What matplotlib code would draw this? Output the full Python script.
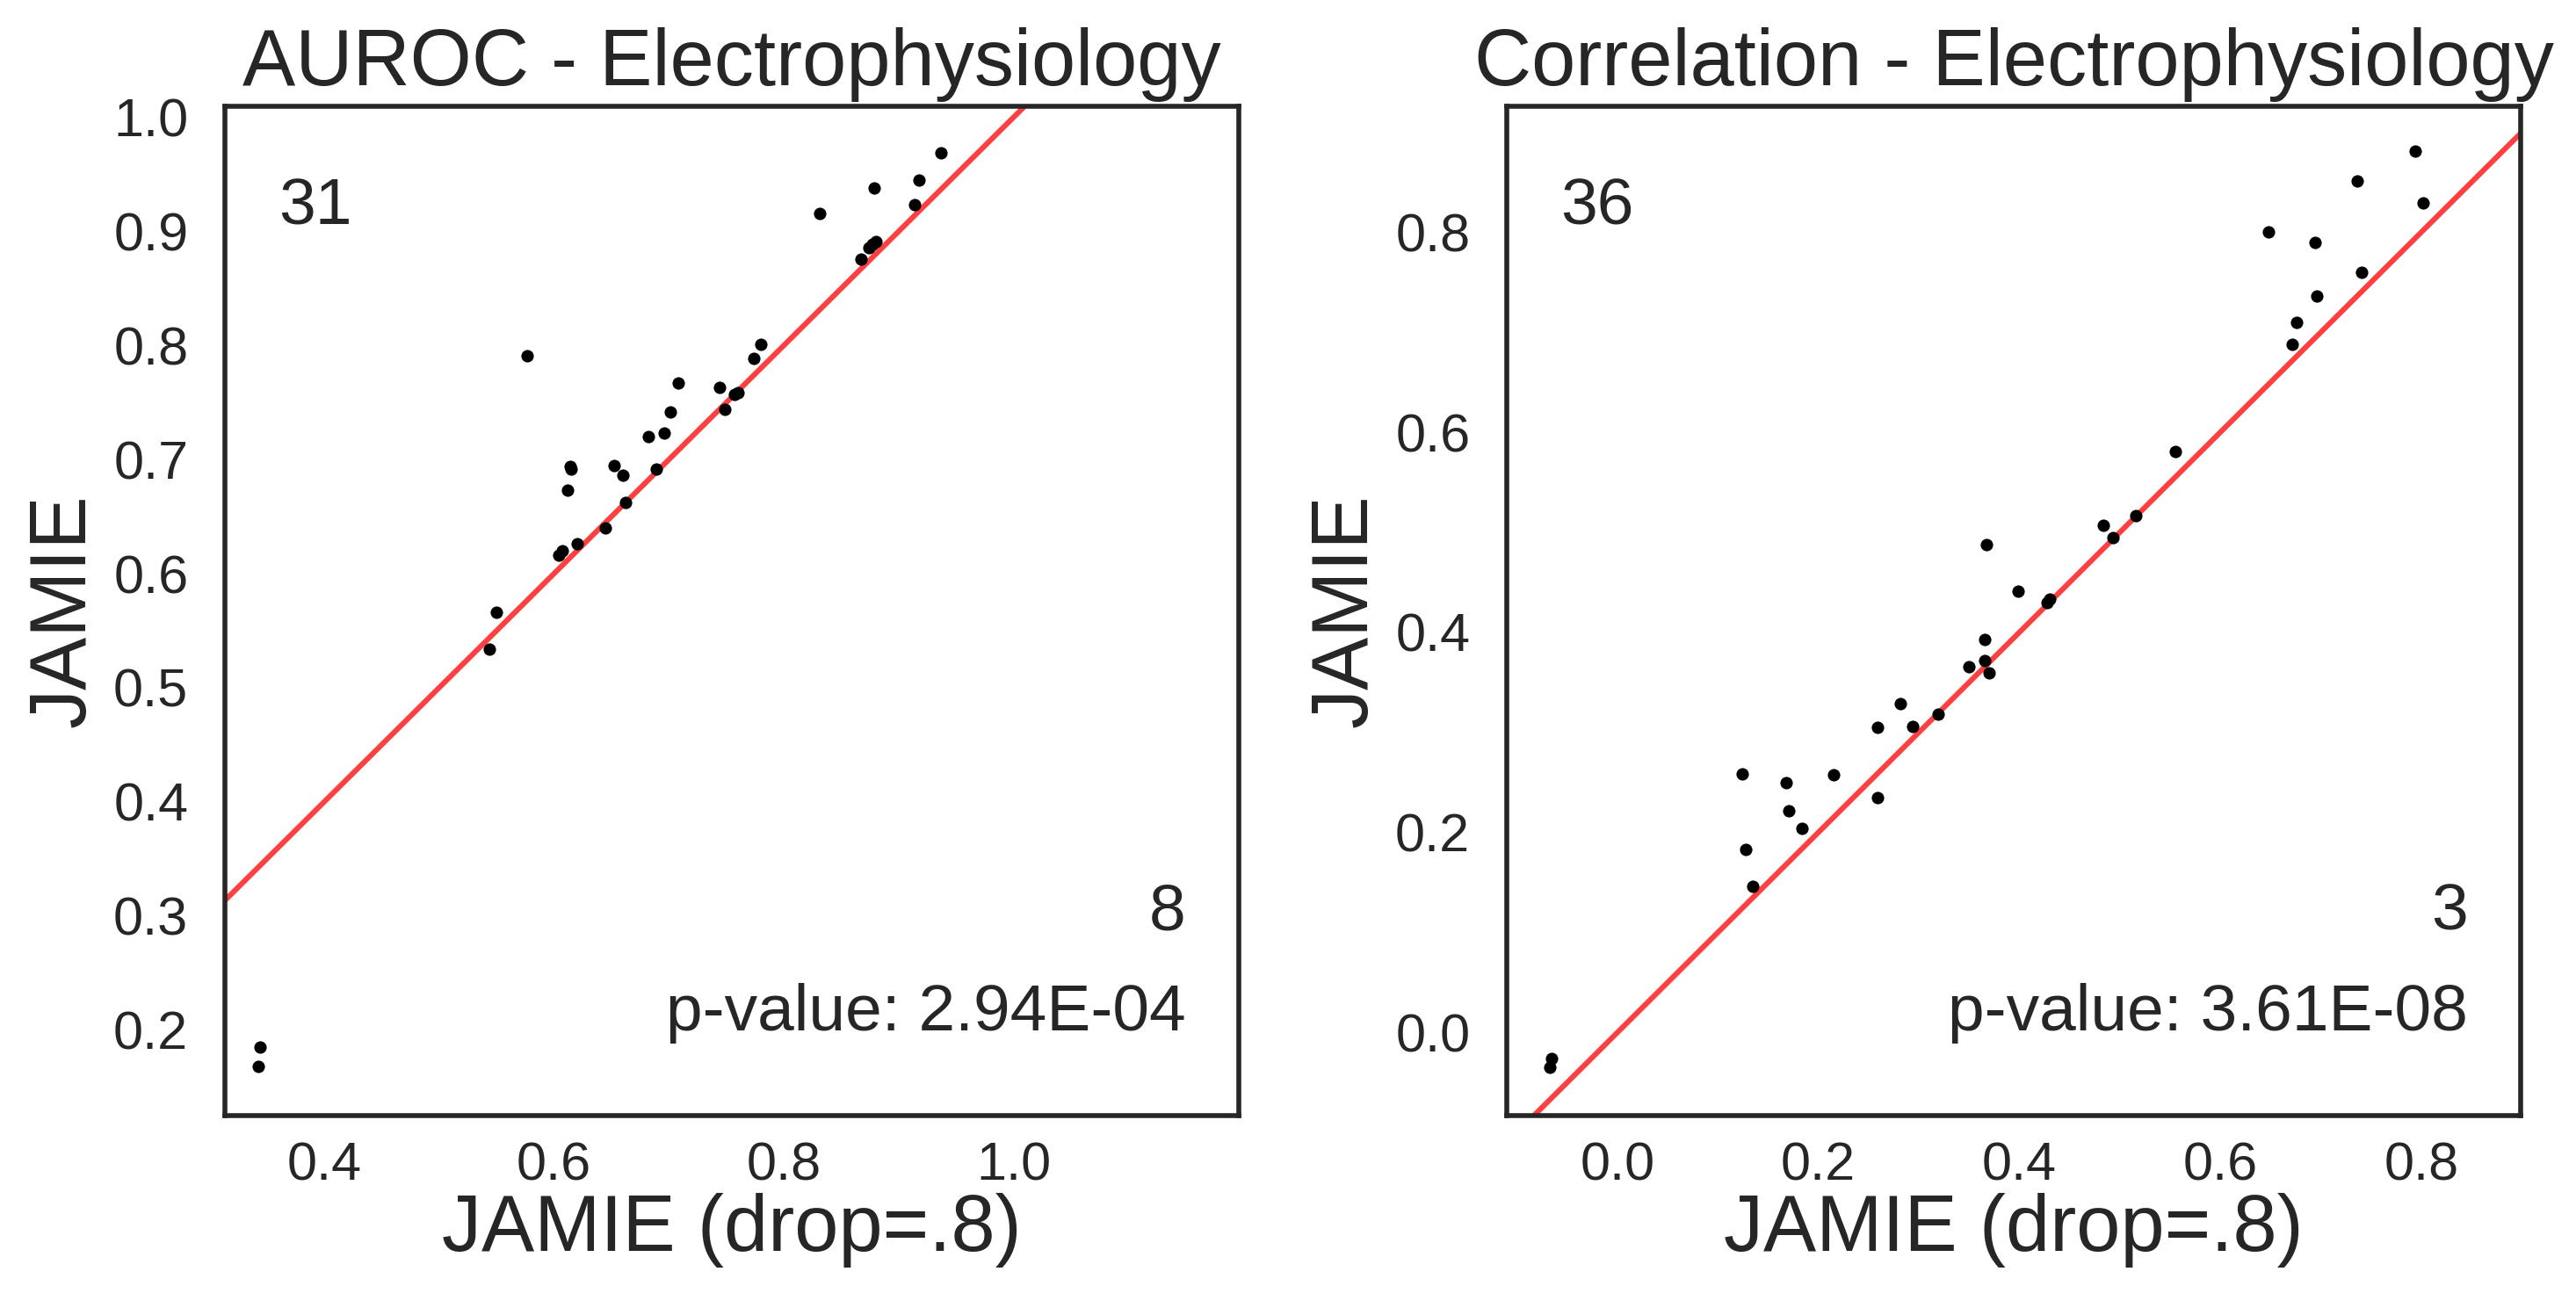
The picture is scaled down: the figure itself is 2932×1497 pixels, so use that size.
import matplotlib
matplotlib.use("Agg")
import matplotlib.pyplot as plt
import numpy as np

plt.rcParams['font.family'] = ['Liberation Sans', 'DejaVu Sans']

# ---------------- data ----------------
# Left panel: AUROC
auroc_x = [0.937, 0.879, 0.918, 0.914, 0.831, 0.880, 0.877, 0.874, 0.867,
           0.577, 0.780, 0.774, 0.708, 0.744, 0.760, 0.757, 0.749, 0.701,
           0.696, 0.682, 0.614, 0.615, 0.652, 0.660, 0.689, 0.612, 0.662,
           0.645, 0.620, 0.607, 0.604, 0.550, 0.544, 0.344, 0.343]
auroc_y = [0.969, 0.938, 0.945, 0.923, 0.916, 0.891, 0.889, 0.886, 0.876,
           0.791, 0.801, 0.789, 0.767, 0.763, 0.759, 0.757, 0.744, 0.742,
           0.723, 0.720, 0.694, 0.692, 0.695, 0.686, 0.692, 0.673, 0.662,
           0.640, 0.626, 0.620, 0.616, 0.566, 0.534, 0.185, 0.168]

# Right panel: Correlation
corr_x = [0.794, 0.736, 0.802, 0.648, 0.694, 0.741, 0.696, 0.676, 0.672,
          0.555, 0.516, 0.484, 0.493, 0.367, 0.399, 0.428, 0.430, 0.366,
          0.350, 0.366, 0.370, 0.282, 0.319, 0.259, 0.294, 0.124, 0.168,
          0.215, 0.259, 0.171, 0.184, 0.128, 0.135, -0.065, -0.067]
corr_y = [0.881, 0.851, 0.829, 0.800, 0.790, 0.760, 0.736, 0.710, 0.688,
          0.581, 0.517, 0.507, 0.495, 0.488, 0.441, 0.430, 0.433, 0.393,
          0.366, 0.372, 0.360, 0.329, 0.318, 0.305, 0.306, 0.259, 0.250,
          0.258, 0.235, 0.222, 0.204, 0.183, 0.146, -0.026, -0.035]

titles = ["AUROC - Electrophysiology", "Correlation - Electrophysiology"]
xlabel = "JAMIE (drop=.8)"
ylabel = "JAMIE"
above_counts = ["31", "36"]
below_counts = ["8", "3"]
pvalues = ["p-value: 2.94E-04", "p-value: 3.61E-08"]

left_xticks = [0.4, 0.6, 0.8, 1.0]
left_yticks = [0.2, 0.3, 0.4, 0.5, 0.6, 0.7, 0.8, 0.9, 1.0]
right_xticks = [0.0, 0.2, 0.4, 0.6, 0.8]
right_yticks = [0.0, 0.2, 0.4, 0.6, 0.8]

left_xlim = (0.3136, 1.196)
left_ylim = (0.125, 1.0096)
right_xlim = (-0.110, 0.899)
right_ylim = (-0.083, 0.926)

# ---------------- figure ----------------
W, H = 2932, 1497
dpi = 200
fig = plt.figure(figsize=(W / dpi, H / dpi), dpi=dpi)
fig.patch.set_facecolor('white')

dark = '#262626'
ax_specs = [
    (fig.add_axes([256 / W, 227 / H, 1154 / W, 1149 / H]),
     auroc_x, auroc_y, left_xlim, left_ylim, left_xticks, left_yticks),
    (fig.add_axes([1715 / W, 227 / H, 1154 / W, 1149 / H]),
     corr_x, corr_y, right_xlim, right_ylim, right_xticks, right_yticks),
]

for i, (ax, xs, ys, xl, yl, xt, yt) in enumerate(ax_specs):
    ax.set_facecolor('white')
    ax.scatter(xs, ys, s=26, color='black', linewidths=0, zorder=3)
    lo = min(xl[0], yl[0]) - 1
    hi = max(xl[1], yl[1]) + 1
    ax.plot([lo, hi], [lo, hi], color='red', alpha=0.75, lw=2.2, zorder=2)
    ax.set_xlim(*xl)
    ax.set_ylim(*yl)
    ax.set_xticks(xt)
    ax.set_yticks(yt)
    ax.set_xticklabels([f"{v:.1f}" for v in xt])
    ax.set_yticklabels([f"{v:.1f}" for v in yt])
    ax.tick_params(axis='x', length=0, pad=10.5, labelsize=22, labelcolor=dark)
    ax.tick_params(axis='y', length=0, pad=15, labelsize=22, labelcolor=dark)
    for sp in ax.spines.values():
        sp.set_color(dark)
        sp.set_linewidth(2.0)
    ax.set_title(titles[i], fontsize=32.5, color=dark, pad=8.6)
    ax.set_xlabel(xlabel, fontsize=32.5, color=dark, labelpad=0.5)
    ax.set_ylabel(ylabel, fontsize=32.5, color=dark, labelpad=5)
    ax.text(0.053, 0.883, above_counts[i], transform=ax.transAxes,
            fontsize=27, color=dark, ha='left', va='baseline')
    ax.text(0.948, 0.184, below_counts[i], transform=ax.transAxes,
            fontsize=27, color=dark, ha='right', va='baseline')
    ax.text(0.948, 0.084, pvalues[i], transform=ax.transAxes,
            fontsize=27, color=dark, ha='right', va='baseline')

fig.savefig('out.png', dpi=dpi, facecolor='white')
